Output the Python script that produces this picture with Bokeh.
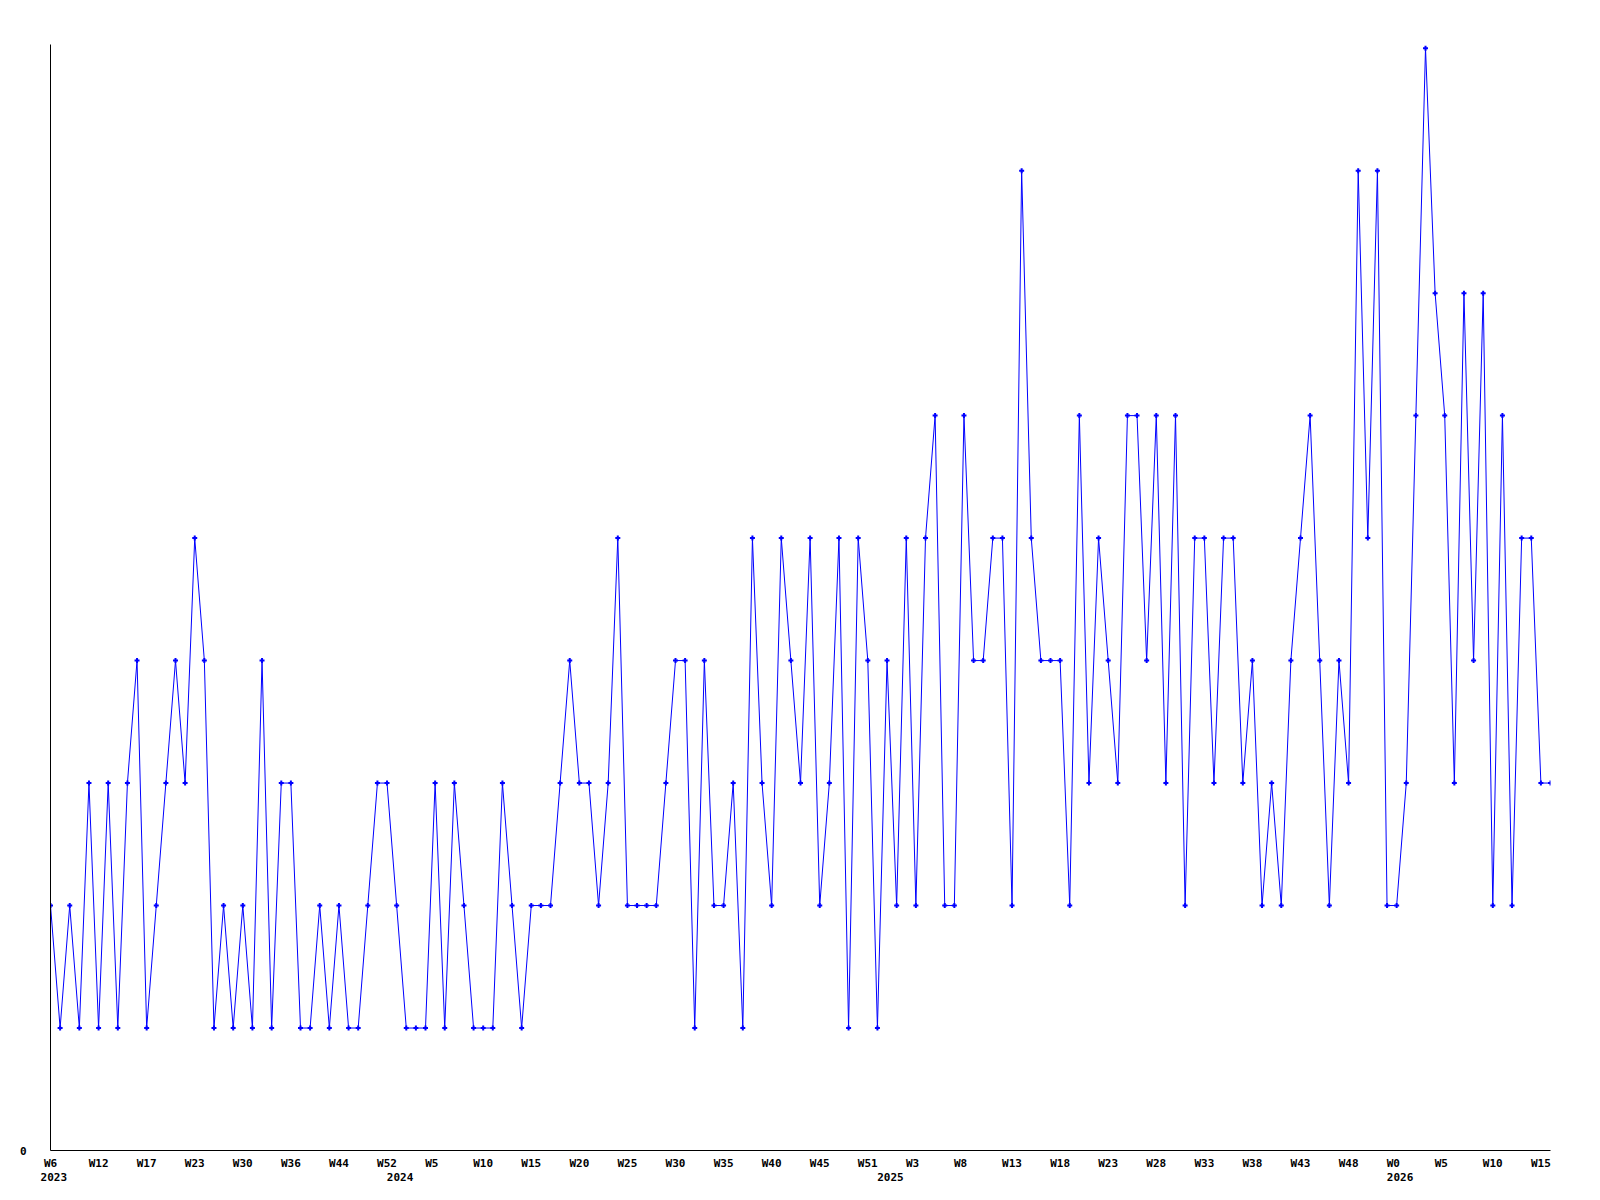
from bokeh.plotting import figure
from bokeh.models import Range1d, FixedTicker, LinearAxis, ColumnDataSource
from bokeh.embed import file_html
from bokeh.resources import INLINE

# weekly values, 2023 W6 .. 2026 W15 (one point per plotted week)
values = [
    2, 1, 2, 1, 3, 1, 3, 1, 3, 4, 1, 2, 3, 4, 3, 5, 4, 1, 2, 1,
    2, 1, 4, 1, 3, 3, 1, 1, 2, 1, 2, 1, 1, 2, 3, 3, 2, 1, 1, 1,
    3, 1, 3, 2, 1, 1, 1, 3, 2, 1, 2, 2, 2, 3, 4, 3, 3, 2, 3, 5,
    2, 2, 2, 2, 3, 4, 4, 1, 4, 2, 2, 3, 1, 5, 3, 2, 5, 4, 3, 5,
    2, 3, 5, 1, 5, 4, 1, 4, 2, 5, 2, 5, 6, 2, 2, 6, 4, 4, 5, 5,
    2, 8, 5, 4, 4, 4, 2, 6, 3, 5, 4, 3, 6, 6, 4, 6, 3, 6, 2,
    5, 5, 3, 5, 5, 3, 4, 2, 3, 2, 4, 5, 6, 4, 2, 4, 3, 8, 5,
    8, 2, 2, 3, 6, 9, 7, 6, 3, 7, 4, 7, 2, 6, 2, 5, 5, 3, 3,
]

week_tick_index = [0, 5, 10, 15, 20, 25, 30, 35, 40, 45, 50, 55, 60, 65, 70, 75,
                   80, 85, 90, 95, 100, 105, 110, 115, 120, 125, 130, 135, 140,
                   145, 150, 155]
week_tick_labels = ["W6", "W12", "W17", "W23", "W30", "W36", "W44", "W52",
                    "W5", "W10", "W15", "W20", "W25", "W30", "W35", "W40",
                    "W45", "W51", "W3", "W8", "W13", "W18", "W23", "W28",
                    "W33", "W38", "W43", "W48", "W0", "W5", "W10", "W15"]
year_tick_index = [0, 36, 87, 140]
year_tick_labels = ["2023", "2024", "2025", "2026"]

y_ticks = [0]
y_tick_labels = ["0"]

x = list(range(len(values)))
src = ColumnDataSource(data=dict(x=x, y=values))

FONT = "DejaVu Sans Mono"
n = len(values) - 1

p = figure(
    frame_width=1500, frame_height=1106,
    min_border_left=50, min_border_top=44, min_border_right=40, min_border_bottom=40,
    x_range=Range1d(0, n), y_range=Range1d(0, 9.03),
    output_backend="svg", toolbar_location=None,
    background_fill_color="white", border_fill_color="white",
)
p.outline_line_color = None
p.xgrid.visible = False
p.ygrid.visible = False

def style_axis(ax, standoff):
    ax.major_tick_line_color = None
    ax.minor_tick_line_color = None
    ax.major_tick_out = 0
    ax.major_tick_in = 0
    ax.minor_tick_out = 0
    ax.minor_tick_in = 0
    ax.major_label_standoff = standoff
    ax.major_label_text_font = FONT
    ax.major_label_text_font_style = "bold"
    ax.major_label_text_font_size = "11px"
    ax.major_label_text_color = "black"
    ax.axis_line_color = "black"
    ax.axis_line_width = 1

# week axis: labels start ~10px left of their week, so shorter labels sit a bit left
week_pos = [i - 0.35 if (len(lab) == 2 and i > 0) else float(i)
            for i, lab in zip(week_tick_index, week_tick_labels)]
xa = p.xaxis[0]
xa.ticker = FixedTicker(ticks=week_pos)
xa.major_label_overrides = {pos: lab for pos, lab in zip(week_pos, week_tick_labels)}
style_axis(xa, 6)

# year axis (shifted slightly so the year text starts where the week text starts)
p.extra_x_ranges = {"years": Range1d(-0.35, n - 0.35)}
ya2 = LinearAxis(x_range_name="years", ticker=FixedTicker(ticks=year_tick_index))
ya2.major_label_overrides = {i: lab for i, lab in zip(year_tick_index, year_tick_labels)}
style_axis(ya2, 0)
ya2.axis_line_color = None
p.add_layout(ya2, "below")

# y axis
yax = p.yaxis[0]
yax.ticker = FixedTicker(ticks=y_ticks)
yax.major_label_overrides = {t: lab for t, lab in zip(y_ticks, y_tick_labels)}
style_axis(yax, 24)

p.line("x", "y", source=src, line_color="#0000ff", line_width=1)
p.scatter("x", "y", source=src, marker="cross", size=5, line_color="#0000ff", line_width=2)

open("out.html", "w").write(file_html(p, INLINE))
